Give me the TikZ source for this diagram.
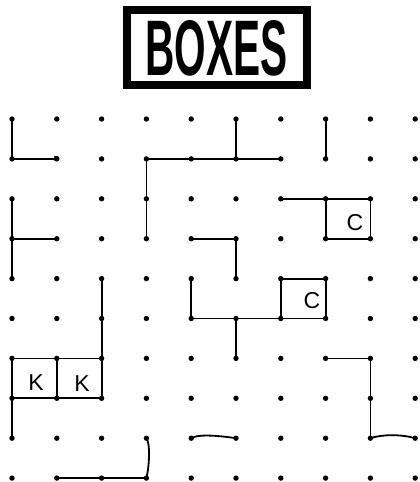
\documentclass[tikz,border=0pt]{standalone}
\usepackage{fontspec}
\usepackage{graphicx}
\newfontfamily\titlefont{Liberation Sans}
\newfontfamily\handfont{Liberation Sans}
\begin{document}
\begin{tikzpicture}[x=1pt,y=-1pt,
  dotnode/.style={circle,fill=black,inner sep=0pt,minimum size=5.4pt},
  edge/.style={line width=1.8pt,line cap=round,line join=round},
  boxlabel/.style={font=\handfont\fontsize{23}{23}\selectfont,inner sep=0pt},
  titlebox/.style={draw=black,line width=8pt,minimum width=180pt,minimum height=75.6pt,inner sep=0pt}]
\useasboundingbox (0,0) rectangle (420,482);
% title
\node[titlebox] (titlebox) at (216.7,47.5) {};
\node[inner sep=0pt] (title) at (216.7,48.5) {\resizebox{142pt}{55pt}{\titlefont\bfseries BOXES}};
% dots
\foreach \c in {0,...,9}{
  \foreach \r in {0,...,9}{
    \node[dotnode] (d-\c-\r) at ({12+44.8*\c},{119+39.9*\r}) {};
  }
}
% straight edges
\foreach \a/\b in {0-0/0-1, 3-1/4-1, 4-1/5-1, 5-1/6-1, 5-0/5-1, 7-0/7-1,
  3-1/3-2, 3-2/3-3, 0-2/0-3, 0-3/0-4, 0-3/1-3,
  6-2/7-2, 7-2/8-2, 7-2/7-3, 7-3/8-3, 8-2/8-3,
  4-3/5-3, 5-3/5-4, 6-4/7-4, 6-4/6-5, 7-4/7-5,
  2-4/2-5, 2-5/2-6, 4-4/4-5, 4-5/5-5, 5-5/6-5, 6-5/7-5, 5-5/5-6,
  7-6/8-6, 8-6/8-7, 8-7/8-8,
  0-6/1-6, 1-6/2-6, 0-6/0-7, 1-6/1-7, 2-6/2-7, 0-7/1-7, 1-7/2-7, 0-7/0-8,
  1-9/2-9, 2-9/3-9}{
  \draw[edge] (d-\a.center) -- (d-\b.center);
}
% hand-drawn curves
\draw[edge] (d-0-1.center) -- ([xshift=-4pt]d-1-1.center) .. controls ([xshift=2pt,yshift=-3pt]d-1-1.center) and ([xshift=4pt,yshift=3pt]d-1-1.center) .. ([xshift=-2pt,yshift=2pt]d-1-1.center);
\draw[edge] (d-4-8.center) .. controls ([xshift=6pt,yshift=4pt]d-4-8.center) and ([xshift=-20pt,yshift=3pt]d-5-8.center) .. (d-5-8.center);
\draw[edge] (d-8-8.center) .. controls ([xshift=12pt,yshift=4pt]d-8-8.center) and ([xshift=-14pt,yshift=4pt]d-9-8.center) .. (d-9-8.center);
\draw[edge] (d-3-8.center) .. controls ([xshift=4pt,yshift=-5pt]d-3-8.center) and ([xshift=3pt,yshift=12pt]d-3-9.center) .. (d-3-9.center);
% box labels
\node[boxlabel] (k1) at (36,383) {K};
\node[boxlabel] (k2) at (82,384) {K};
\node[boxlabel] (c1) at (355,223) {C};
\node[boxlabel] (c2) at (312,301) {C};
\end{tikzpicture}
\end{document}
